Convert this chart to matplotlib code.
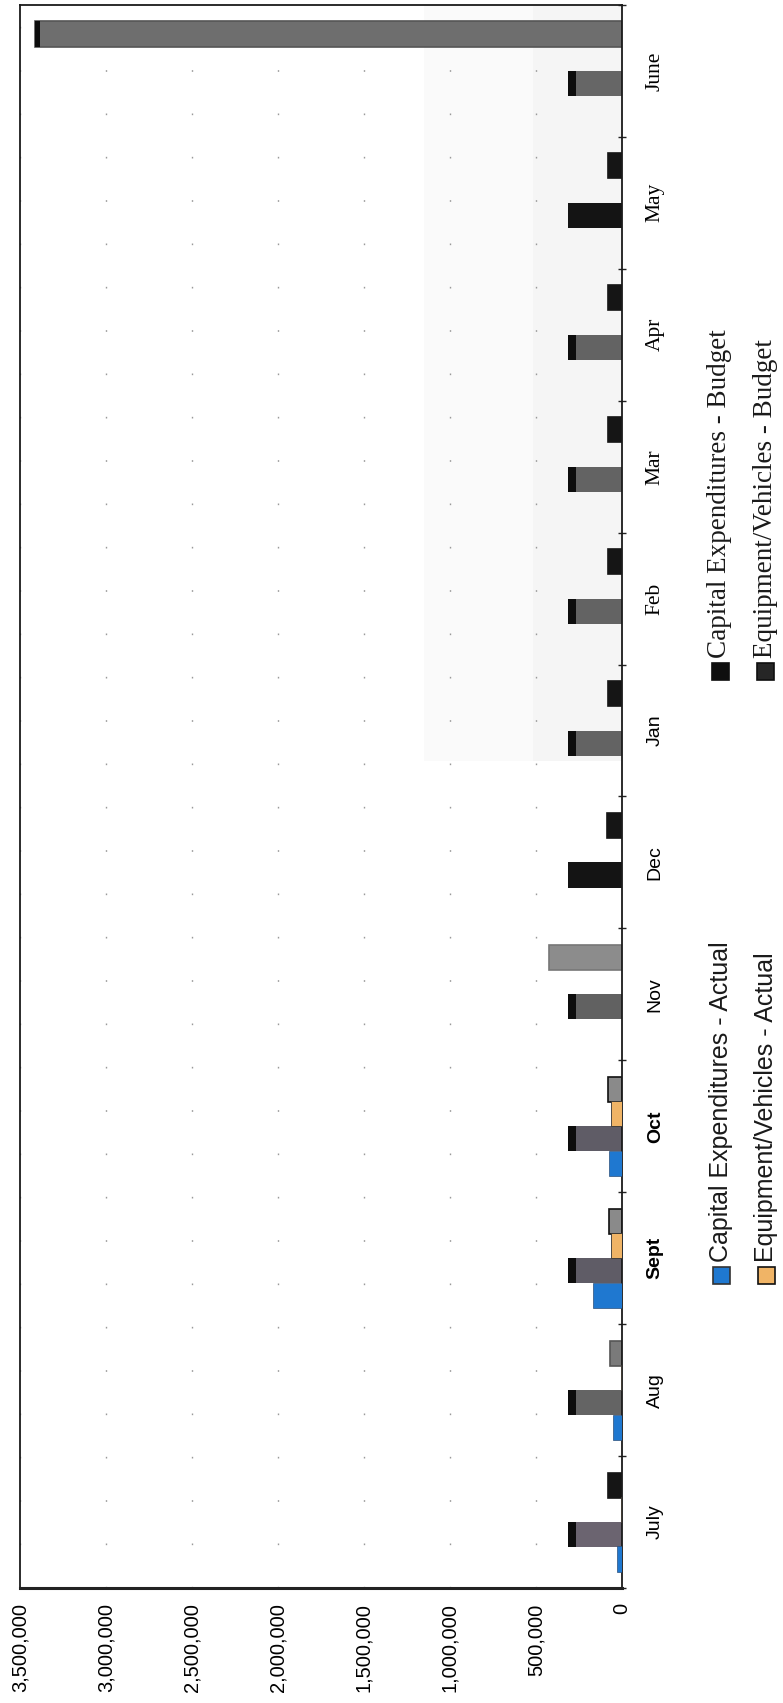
import numpy as np
import matplotlib
matplotlib.use("Agg")
import matplotlib.pyplot as plt
from matplotlib.patches import Rectangle

# ---------------- data ----------------
months = ["July", "Aug", "Sept", "Oct", "Nov", "Dec", "Jan", "Feb", "Mar", "Apr", "May", "June"]
actual_months = ["July", "Aug", "Sept", "Oct"]
capex_actual = [30000, 52000, 168000, 75000]
equip_actual = [8000, 8000, 64000, 62000]
capex_budget = [312500, 312500, 312500, 312500, 312500, 312500,
                312500, 312500, 312500, 312500, 312500, 312500]
equip_budget = [80000, 72000, 78000, 80000, 425000, 85000,
                81000, 81000, 81000, 81000, 81000, 3413000]
value_ticks = [0, 500000, 1000000, 1500000, 2000000, 2500000, 3000000, 3500000]
value_tick_labels = ["0", "500,000", "1,000,000", "1,500,000", "2,000,000",
                     "2,500,000", "3,000,000", "3,500,000"]
legend_labels = ["Capital Expenditures - Actual", "Equipment/Vehicles - Actual",
                 "Capital Expenditures - Budget", "Equipment/Vehicles - Budget"]

# ---------------- style ----------------
W, H = 783, 1703
CAP = 45000  # dark end cap on grey budget bars (value units)
capex_budget_colors = ["#6b6470", "#646464", "#5f5c66", "#5f5c66", "#616161", "#141414",
                       "#636363", "#636363", "#636363", "#636363", "#141414", "#666666"]
capex_budget_cap = [True, True, True, True, True, False, True, True, True, True, False, True]
equip_budget_colors = ["#151515", "#7a7a7a", "#8a8a8a", "#8a8a8a", "#8c8c8c", "#151515",
                       "#151515", "#151515", "#151515", "#151515", "#151515", "#6e6e6e"]
equip_budget_edge = ["#151515", "#555555", "#111111", "#111111", "#777777", "#151515",
                     "#151515", "#151515", "#151515", "#151515", "#151515", "#555555"]
equip_budget_cap = [False] * 11 + [True]
blue = "#1f78d0"
orange = "#f0b466"

fig = plt.figure(figsize=(W / 100, H / 100), dpi=100)
ax = fig.add_axes([20 / W, 1 - 1588 / H, 602 / W, 1583 / H])

pos = np.arange(len(months))
apos = np.array([months.index(m) for m in actual_months])
bh = 0.19
offs = [-0.28, -0.095, 0.095, 0.28]

# faint scan shading
ax.add_patch(Rectangle((0, 5.77), 1150000, 5.73, facecolor="#fafafa", edgecolor="none", zorder=0))
ax.add_patch(Rectangle((0, 5.77), 520000, 5.73, facecolor="#f5f5f5", edgecolor="none", zorder=0))

ax.barh(apos + offs[0], capex_actual, height=bh, color=blue, edgecolor="#2a4f7a", lw=0.5, zorder=3)
ax.barh(pos + offs[1], capex_budget, height=bh, color=capex_budget_colors, edgecolor="none", zorder=2)
cb = np.array(capex_budget, dtype=float)
mask = np.array(capex_budget_cap)
ax.barh((pos + offs[1])[mask], CAP, left=(cb - CAP)[mask], height=bh, color="#0d0d0d", zorder=2.5)
ax.barh(apos + offs[2], equip_actual, height=bh, color=orange, edgecolor="#333333", lw=0.6, zorder=3)
ax.barh(pos + offs[3], equip_budget, height=bh, color=equip_budget_colors,
        edgecolor=equip_budget_edge, lw=1.2, zorder=2)
eb = np.array(equip_budget, dtype=float)
m2 = np.array(equip_budget_cap)
ax.barh((pos + offs[3])[m2], CAP * 0.7, left=(eb - CAP * 0.7)[m2], height=bh, color="#0d0d0d", zorder=2.5)

ax.set_xlim(3500000, 0)
ax.set_ylim(-0.5, len(months) - 0.5)

ax.set_xticks(value_ticks)
ax.set_xticklabels(value_tick_labels, family="Liberation Sans", fontsize=14.5)
ax.tick_params(axis="x", length=0, pad=11, labelrotation=90)
ax.grid(axis="x", linestyle=(0, (1.2, 30)), color="#9a9a9a", lw=1.0)
ax.set_axisbelow(True)

ax.yaxis.tick_right()
ax.set_yticks(pos)
ax.set_yticklabels(months)
ax.set_yticks(np.arange(-0.5, len(months), 1), minor=True)
ax.tick_params(axis="y", which="major", length=0, pad=24)
ax.tick_params(axis="y", which="minor", length=6, direction="inout", width=1, color="#222222")
serif_months = {"Feb", "Mar", "Apr", "May", "June"}
bold_months = {"Sept", "Oct"}
for lbl in ax.get_yticklabels():
    t = lbl.get_text()
    lbl.set_rotation(90)
    lbl.set_ha("center")
    lbl.set_va("center")
    if t in serif_months:
        lbl.set_family("Liberation Serif")
        lbl.set_fontsize(15.5)
    else:
        lbl.set_family("Liberation Sans")
        lbl.set_fontsize(14)
    if t in bold_months:
        lbl.set_fontweight("bold")

for side in ["left", "top", "right"]:
    ax.spines[side].set_linewidth(1.3)
    ax.spines[side].set_color("#1a1a1a")
ax.spines["bottom"].set_linewidth(2.2)
ax.spines["bottom"].set_color("#222222")

# ---------------- legend (rotated, drawn manually) ----------------
def fx(px):
    return px / W

def fy(py):
    return 1 - py / H

sq = 17
legend_items = [
    (legend_labels[0], blue, "#333333", 721, 1275, "Liberation Sans", 18),
    (legend_labels[1], orange, "#111111", 766, 1275, "Liberation Sans", 18),
    (legend_labels[2], "#0f0f0f", "#0f0f0f", 720, 671, "Liberation Serif", 19.5),
    (legend_labels[3], "#262626", "#0f0f0f", 765, 671, "Liberation Serif", 19.5),
]
for text, fc, ec, cx, cy, fam, fs in legend_items:
    fig.patches.append(Rectangle((fx(cx - sq / 2), fy(cy + sq / 2)), sq / W, sq / H,
                                 transform=fig.transFigure, facecolor=fc, edgecolor=ec, lw=1.2))
    fig.text(fx(cx), fy(cy - sq / 2 - 4), text, rotation=90, ha="center", va="bottom",
             family=fam, fontsize=fs, color="#1a1a1a")

fig.savefig("out.png", dpi=100)
